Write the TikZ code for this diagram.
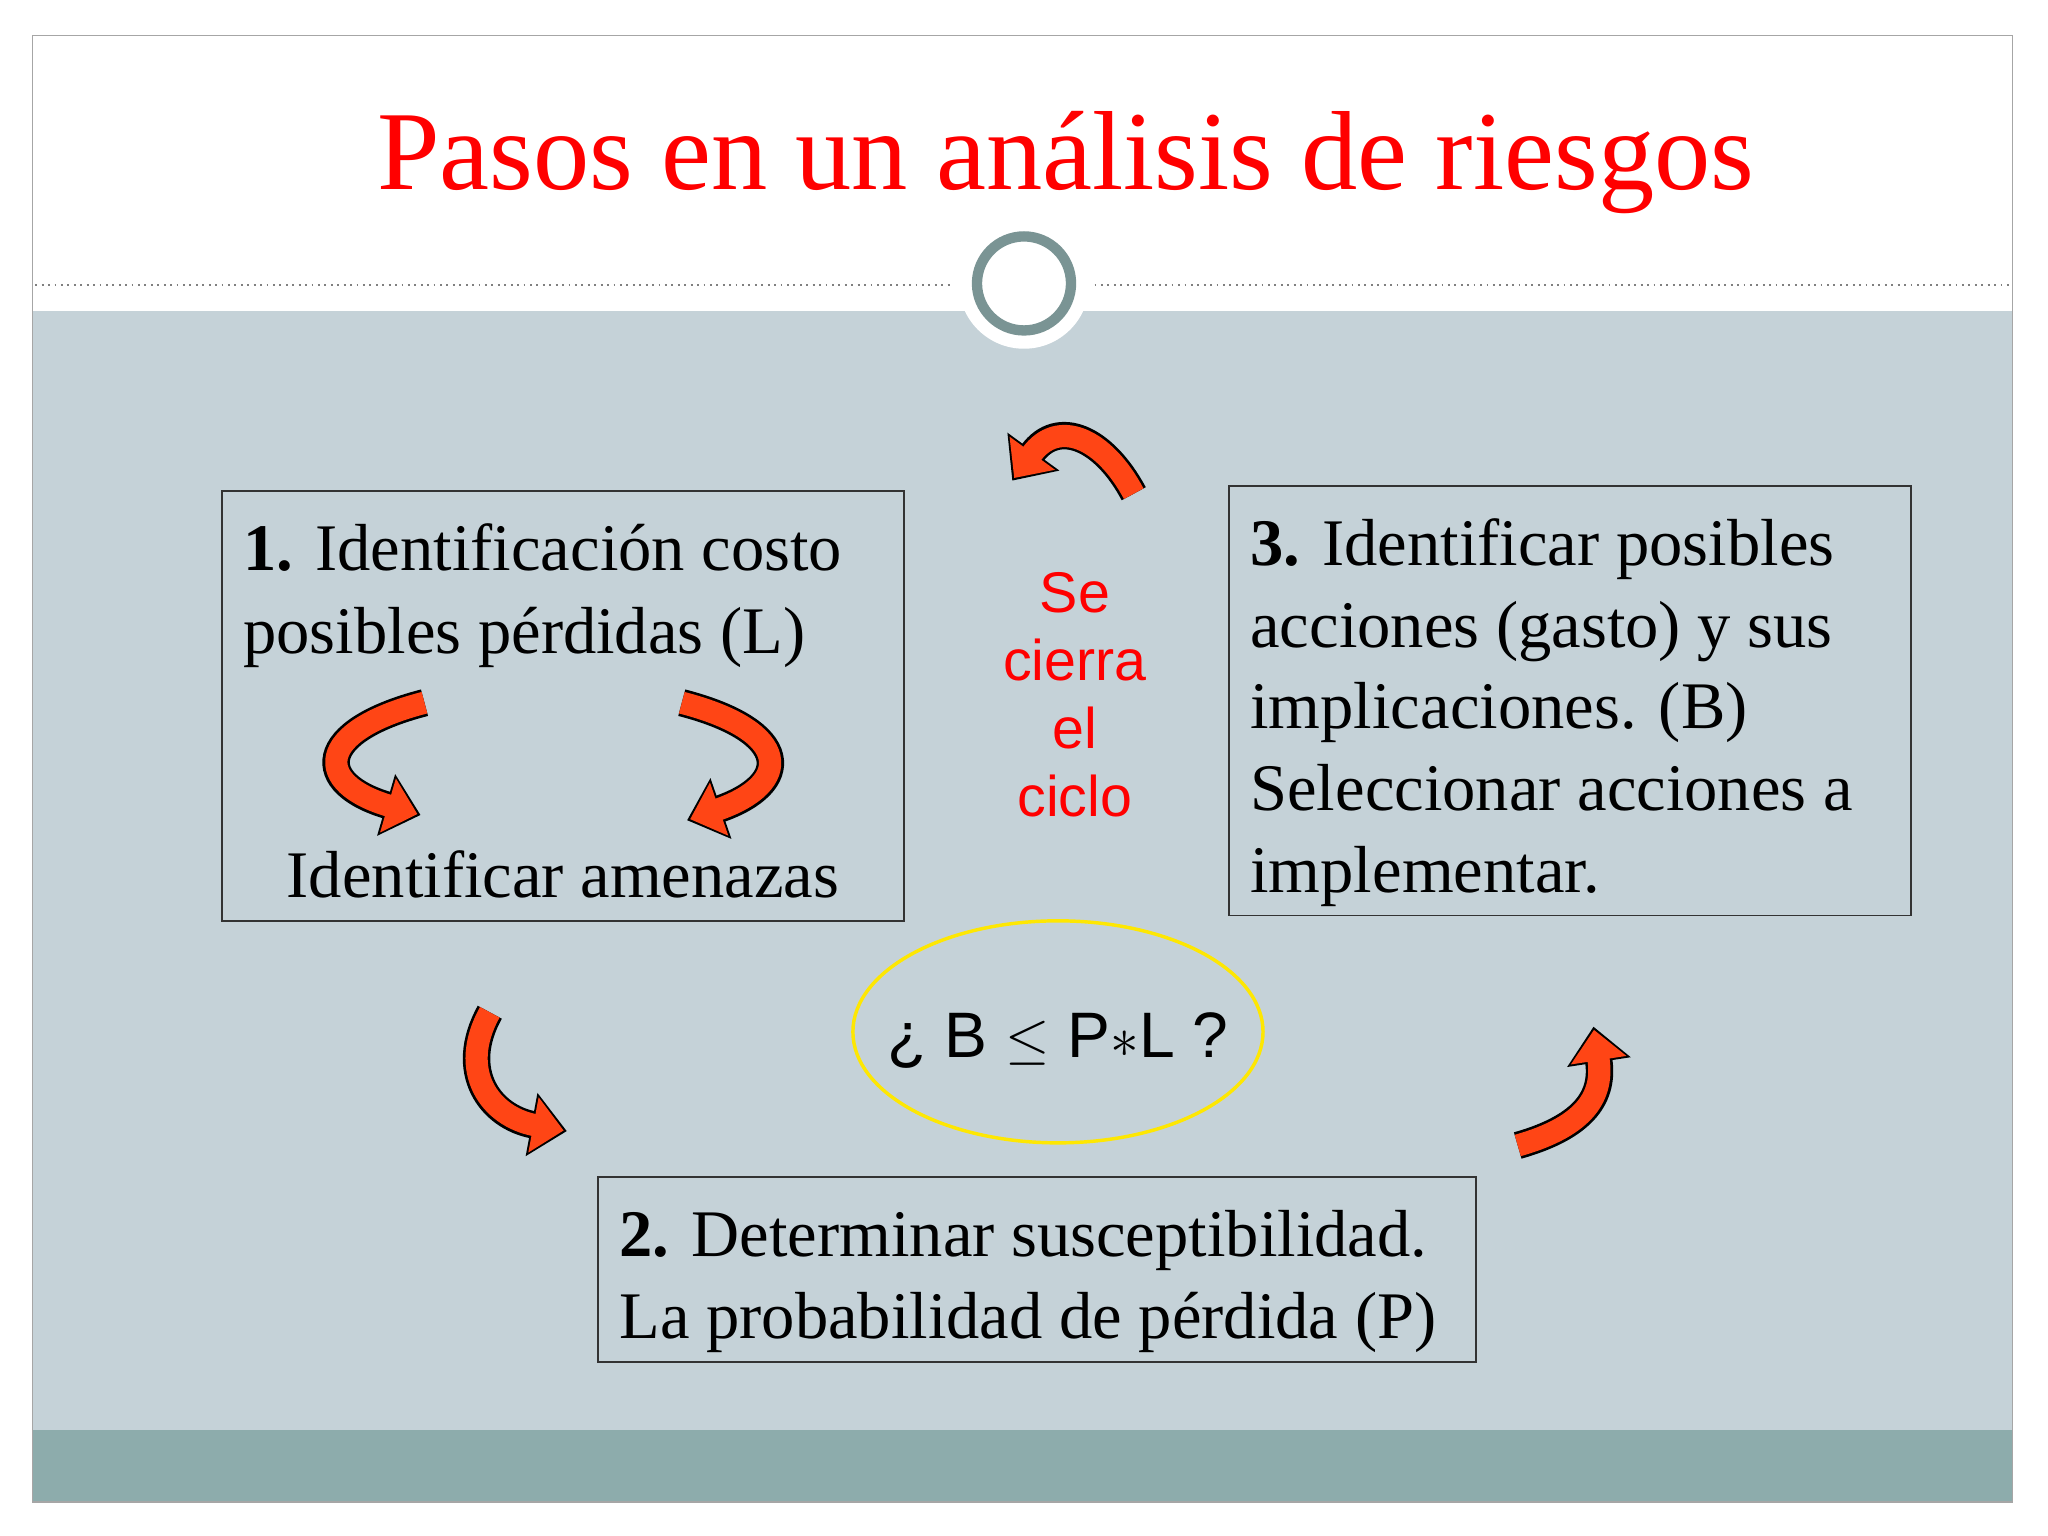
\documentclass[tikz,border=0pt]{standalone}
\usepackage{fontspec}
\setmainfont{Liberation Serif}
\setsansfont{Liberation Sans}
\usetikzlibrary{arrows.meta}
\definecolor{bgg}{HTML}{C5D2D8}
\definecolor{band}{HTML}{8DACAC}
\definecolor{ring}{HTML}{7A9494}
\definecolor{arr}{HTML}{FF4515}
\tikzset{
 box/.style={draw=black!80,line width=0.7pt},
 body/.style={font=\fontsize{29}{35.8}\selectfont,align=left,anchor=base west,inner sep=0},
}
\newcommand{\fatarrow}[1]{%
 \draw[line width=0.42cm,-{Triangle[length=0.55cm,width=0.95cm]},black] #1;
 \draw[line width=0.34cm,-{Triangle[length=0.47cm,width=0.83cm]},arr,shorten >=0.05cm] #1;}
\begin{document}
\begin{tikzpicture}[x=0.02cm,y=-0.02cm]
\useasboundingbox (0,0) rectangle (1568,1176);
\fill[white] (0,0) rectangle (1568,1176);
\fill[bgg] (25,238) rectangle (1541,1095);
\fill[band] (25,1095) rectangle (1541,1150);
\draw[gray!70,line width=0.6pt] (25,27) rectangle (1541,1150);
\draw[gray,dotted,line width=0.8pt] (27,218) -- (730,218) (838,218) -- (1540,218);
\fill[white] (784,217) circle (50);
\draw[ring,line width=4.5pt] (784,217) circle (36);
\node[red,font=\fontsize{49}{52}\selectfont,anchor=base] (title) at (816,145) {Pasos en un análisis de riesgos};
% boxes
\draw[box] (170,376) rectangle (692,705);
\node[body] (t1) at (186,500) {\textbf{1.} Identificación costo\\posibles pérdidas (L)};
\node[body,anchor=base] (t1b) at (431,687) {Identificar amenazas};
\draw[box] (941,372) rectangle (1463,701);
\node[body,font=\fontsize{29}{35.6}\selectfont] (t3) at (957,683) {\textbf{3.} Identificar posibles\\acciones (gasto) y sus\\implicaciones. (B)\\Seleccionar acciones a\\implementar.};
\draw[box] (458,901) rectangle (1130,1043);
\node[body] (t2) at (474,1025) {\textbf{2.} Determinar susceptibilidad.\\La probabilidad de pérdida (P)};
\node[red,font=\sffamily\fontsize{25}{29.6}\selectfont,align=center,anchor=north] (cyc) at (823,432) {Se\\cierra\\el\\ciclo};
\draw[yellow!90!orange,line width=1.5pt] (810,790) ellipse (157 and 85);
\node[font=\sffamily\fontsize{28}{32}\selectfont] (q) at (810,797) {¿ B $\leq$ P$\ast$L ?};
% arrows
\fatarrow{(868,378) .. controls (845,335) and (810,320) .. (775,368)}
\fatarrow{(325,538) .. controls (240,560) and (240,600) .. (322,624)}
\fatarrow{(522,538) .. controls (607,560) and (607,600) .. (526,628)}
\fatarrow{(375,775) .. controls (350,820) and (375,855) .. (434,866)}
\fatarrow{(1162,877) .. controls (1215,862) and (1228,838) .. (1220,786)}
\end{tikzpicture}
\end{document}
